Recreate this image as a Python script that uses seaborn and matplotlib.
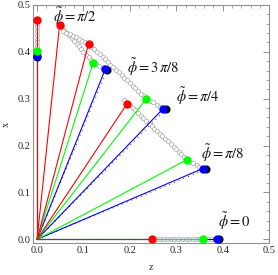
import matplotlib
matplotlib.use("Agg")
import matplotlib.pyplot as plt
import seaborn as sns
from matplotlib.ticker import MultipleLocator

sns.set_theme(style="white")
plt.rcParams.update({
    'font.family': ['Liberation Serif', 'DejaVu Serif'],
    'mathtext.fontset': 'stix',
})

# endpoints per phi group: pi/2, 3pi/8, pi/4, pi/8, 0   (z, x)
red_z = [0.0, 0.0486, 0.111, 0.193, 0.248]
red_x = [0.468, 0.458, 0.417, 0.288, 0.0]
green_z = [0.0, 0.121, 0.2355, 0.323, 0.357]
green_x = [0.401, 0.377, 0.300, 0.170, 0.0]
blue_z = [0.0, 0.147, 0.272, 0.357, 0.388]
blue_x = [0.392, 0.363, 0.279, 0.151, 0.0]
black_z = [0.0, 0.151, 0.277, 0.363, 0.392]
black_x = [0.389, 0.362, 0.277, 0.149, 0.0]

# gray open-circle chains
chain_pi2_z = [0.0] * 11
chain_pi2_x = [0.468, 0.460, 0.452, 0.444, 0.436, 0.428, 0.420, 0.412, 0.404, 0.396, 0.390]
chain_3pi8_z = [0.049, 0.054, 0.059, 0.064, 0.069, 0.075, 0.080, 0.085, 0.090, 0.095,
                0.100, 0.106, 0.111, 0.116, 0.121, 0.128, 0.134, 0.141, 0.147]
chain_3pi8_x = [0.458, 0.452, 0.446, 0.441, 0.435, 0.429, 0.423, 0.417, 0.412, 0.406,
                0.400, 0.394, 0.388, 0.383, 0.377, 0.374, 0.370, 0.367, 0.363]
chain_pi4_z = [0.056, 0.063, 0.070, 0.077, 0.084, 0.090, 0.097, 0.104,
               0.111, 0.117, 0.123, 0.129, 0.135, 0.141, 0.147, 0.153, 0.158, 0.164, 0.170,
               0.176, 0.182, 0.188, 0.194, 0.200, 0.206, 0.212, 0.218, 0.224, 0.230, 0.2355,
               0.243, 0.250, 0.258, 0.265, 0.272]
chain_pi4_x = [0.445, 0.441, 0.438, 0.434, 0.431, 0.427, 0.424, 0.420,
               0.417, 0.411, 0.406, 0.400, 0.395, 0.389, 0.384, 0.378, 0.372, 0.367, 0.361,
               0.356, 0.350, 0.345, 0.339, 0.333, 0.328, 0.322, 0.317, 0.311, 0.306, 0.300,
               0.296, 0.292, 0.287, 0.283, 0.279]
chain_pi8_z = [0.188, 0.194, 0.200, 0.206, 0.211, 0.217, 0.223, 0.229, 0.235, 0.241, 0.247,
               0.253, 0.258, 0.264, 0.270, 0.276, 0.282, 0.288, 0.294, 0.300, 0.305, 0.311,
               0.317, 0.323, 0.330, 0.337, 0.344, 0.350, 0.357]
chain_pi8_x = [0.297, 0.291, 0.286, 0.280, 0.275, 0.269, 0.264, 0.258, 0.253, 0.247, 0.242,
               0.236, 0.231, 0.225, 0.220, 0.214, 0.209, 0.203, 0.198, 0.192, 0.187, 0.181,
               0.176, 0.170, 0.166, 0.162, 0.158, 0.155, 0.151]
chain_0_z = [0.248, 0.256, 0.264, 0.272, 0.280, 0.288, 0.296, 0.304, 0.312, 0.320,
             0.328, 0.336, 0.344, 0.352, 0.360, 0.368, 0.376, 0.384, 0.392]
chain_0_x = [0.0] * 19

labels = [r'$\tilde{\phi} = \pi/2$', r'$\tilde{\phi} = 3\,\pi/8$', r'$\tilde{\phi} = \pi/4$',
          r'$\tilde{\phi} = \pi/8$', r'$\tilde{\phi} = 0$']
label_z = [0.034, 0.194, 0.299, 0.354, 0.389]
label_x = [0.477, 0.368, 0.305, 0.183, 0.038]

fig, ax = plt.subplots(figsize=(2.78, 2.75), dpi=100)
fig.subplots_adjust(left=0.119, right=0.968, top=0.982, bottom=0.116)

chains = [(chain_pi2_z, chain_pi2_x), (chain_3pi8_z, chain_3pi8_x), (chain_pi4_z, chain_pi4_x),
          (chain_pi8_z, chain_pi8_x), (chain_0_z, chain_0_x)]
for cz, cx in chains:
    ax.plot(cz, cx, ls='none', marker='o', ms=3.1, mfc='white', mec='#b4b4b4', mew=0.6, zorder=2)

lw = 0.8
for i in range(len(blue_z)):
    ax.plot([0, blue_z[i]], [0, blue_x[i]], color='#0000ff', lw=lw, zorder=3)
    ax.plot([0, black_z[i]], [0, black_x[i]], color='black', lw=0.8, ls=(0, (0.6, 4)), zorder=3)
    ax.plot([0, green_z[i]], [0, green_x[i]], color='#00ff00', lw=lw, zorder=3)
    ax.plot([0, red_z[i]], [0, red_x[i]], color='#ff0000', lw=lw, zorder=3)

ax.plot(black_z, black_x, ls='none', marker='o', ms=4.8, color='black', zorder=4)
ax.plot(blue_z, blue_x, ls='none', marker='o', ms=5, color='#0000ff', zorder=5)
ax.plot(green_z, green_x, ls='none', marker='o', ms=5, color='#00ff00', zorder=5)
ax.plot(red_z, red_x, ls='none', marker='o', ms=5, color='#ff0000', zorder=5)

for t, lz, lx in zip(labels, label_z, label_x):
    ax.text(lz, lx, t, fontsize=10.5, va='center', ha='left', color='#111111')

ax.set_xlim(-0.0086, 0.5)
ax.set_ylim(-0.008, 0.5)
ax.xaxis.set_major_locator(MultipleLocator(0.1))
ax.yaxis.set_major_locator(MultipleLocator(0.1))
ax.xaxis.set_minor_locator(MultipleLocator(0.02))
ax.yaxis.set_minor_locator(MultipleLocator(0.02))
ax.xaxis.set_major_formatter(plt.FuncFormatter(lambda v, p: f'{v:.1f}'))
ax.yaxis.set_major_formatter(plt.FuncFormatter(lambda v, p: f'{v:.1f}'))
ax.tick_params(which='both', direction='in', top=True, right=True, colors='#808080',
               labelcolor='#222222', labelsize=7.5, pad=2)
ax.tick_params(which='major', length=4, width=0.6)
ax.tick_params(which='minor', length=2, width=0.5)
for s in ax.spines.values():
    s.set_color('#909090')
    s.set_linewidth(0.8)
ax.set_xlabel('z', fontsize=7.5)
ax.set_ylabel('x', fontsize=7.5)
ax.xaxis.set_label_coords(0.5, -0.085)
ax.yaxis.set_label_coords(-0.095, 0.5)

fig.savefig('out.png', dpi=100)
